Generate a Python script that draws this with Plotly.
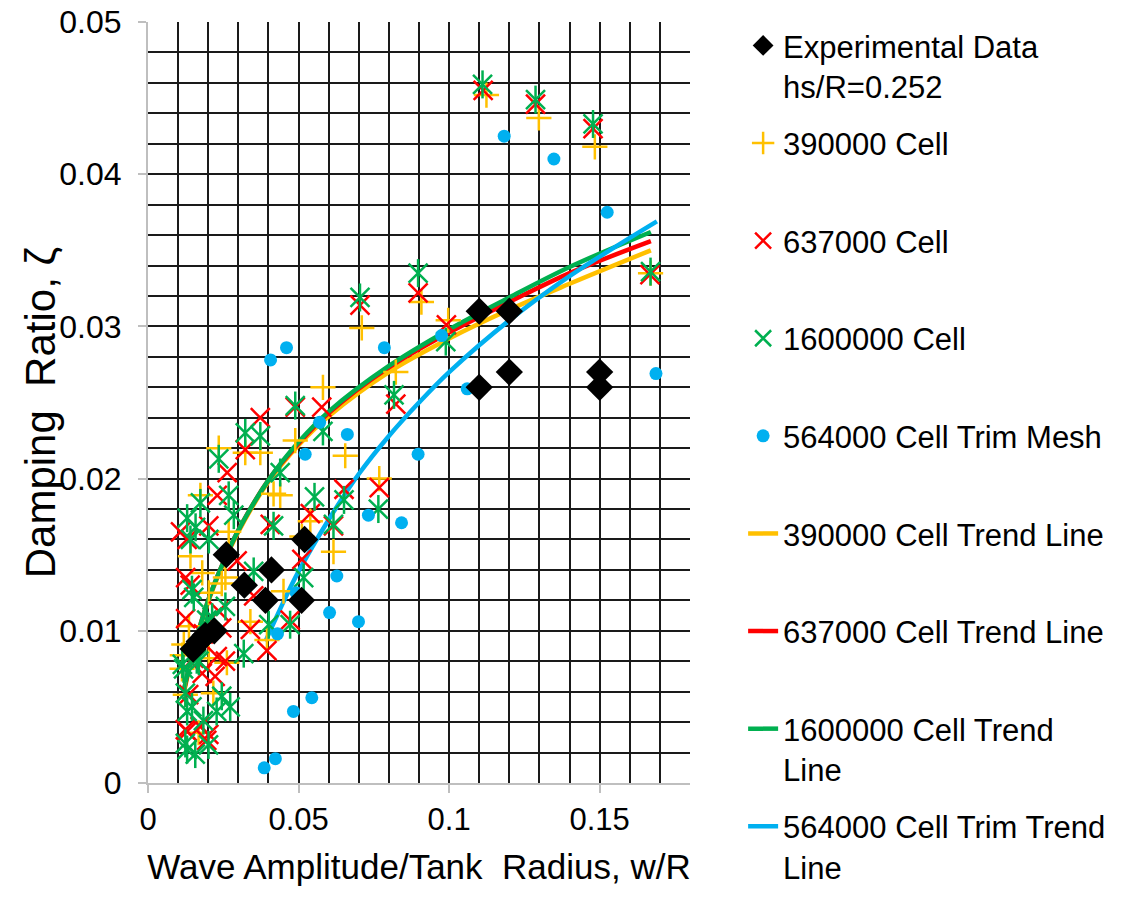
import plotly.graph_objects as go

# ---------------- data ----------------
exp_x = [0.015, 0.017, 0.019, 0.022, 0.026, 0.032, 0.039, 0.041, 0.051, 0.052,
         0.110, 0.110, 0.120, 0.120, 0.150, 0.150]
exp_y = [0.0088, 0.0093, 0.0097, 0.0100, 0.0150, 0.0130, 0.0120, 0.0140, 0.0120, 0.0160,
         0.0310, 0.0260, 0.0310, 0.0270, 0.0270, 0.0260]

c390_x = [0.1124, 0.1298, 0.1484, 0.1669, 0.0997, 0.0908, 0.0710, 0.0823, 0.0581, 0.0489,
          0.0655, 0.0768, 0.0539, 0.0511, 0.0616, 0.0235, 0.0323, 0.0373, 0.0174, 0.0417,
          0.0439, 0.0268, 0.0141, 0.0180, 0.0257, 0.0202, 0.0136, 0.0340, 0.0450, 0.0395,
          0.0119, 0.0114, 0.0202, 0.0113, 0.0245, 0.0262, 0.0217, 0.0124, 0.0168]
c390_y = [0.0452, 0.0437, 0.0418, 0.0335, 0.0304, 0.0316, 0.0299, 0.0270, 0.0260, 0.0225,
          0.0215, 0.0200, 0.0172, 0.0162, 0.0152, 0.0220, 0.0217, 0.0217, 0.0189, 0.0190,
          0.0189, 0.0165, 0.0149, 0.0138, 0.0135, 0.0125, 0.0103, 0.0106, 0.0126, 0.0094,
          0.0091, 0.0084, 0.0082, 0.0075, 0.0131, 0.0079, 0.0059, 0.0058, 0.0033]

c637_x = [0.1113, 0.1287, 0.1478, 0.1667, 0.0991, 0.0897, 0.0704, 0.0823, 0.0577, 0.0489,
          0.0768, 0.0651, 0.0539, 0.0616, 0.0511, 0.0472, 0.0373, 0.0323, 0.0263, 0.0230,
          0.0202, 0.0108, 0.0406, 0.0130, 0.0296, 0.0125, 0.0351, 0.0235, 0.0125, 0.0245,
          0.0340, 0.0395, 0.0230, 0.0152, 0.0180, 0.0257, 0.0140, 0.0184, 0.0223, 0.0135,
          0.0124, 0.0195, 0.0173, 0.0130, 0.0202]
c637_y = [0.0455, 0.0446, 0.0430, 0.0334, 0.0301, 0.0322, 0.0314, 0.0249, 0.0247, 0.0247,
          0.0194, 0.0193, 0.0177, 0.0169, 0.0147, 0.0107, 0.0240, 0.0219, 0.0204, 0.0189,
          0.0169, 0.0165, 0.0170, 0.0160, 0.0146, 0.0135, 0.0123, 0.0113, 0.0108, 0.0102,
          0.0101, 0.0087, 0.0083, 0.0082, 0.0072, 0.0080, 0.0130, 0.0098, 0.0070, 0.0058,
          0.0035, 0.0028, 0.0037, 0.0034, 0.0032]

c1600_x = [0.1111, 0.1287, 0.1478, 0.1669, 0.0989, 0.0897, 0.0704, 0.0817, 0.0489, 0.0581,
           0.0553, 0.0651, 0.0765, 0.0616, 0.0517, 0.0472, 0.0323, 0.0373, 0.0235, 0.0268,
           0.0174, 0.0439, 0.0285, 0.0130, 0.0158, 0.0417, 0.0141, 0.0202, 0.0351, 0.0152,
           0.0213, 0.0257, 0.0401, 0.0318, 0.0169, 0.0114, 0.0146, 0.0195, 0.0162, 0.0118,
           0.0124, 0.0146, 0.0184, 0.0228, 0.0273, 0.0245, 0.0124, 0.0157, 0.0201, 0.0130,
           0.0130]
c1600_y = [0.0459, 0.0449, 0.0433, 0.0336, 0.0290, 0.0335, 0.0319, 0.0255, 0.0248, 0.0231,
           0.0188, 0.0186, 0.0180, 0.0170, 0.0135, 0.0104, 0.0230, 0.0228, 0.0213, 0.0189,
           0.0184, 0.0204, 0.0176, 0.0174, 0.0168, 0.0169, 0.0160, 0.0160, 0.0139, 0.0122,
           0.0109, 0.0116, 0.0104, 0.0085, 0.0080, 0.0078, 0.0127, 0.0107, 0.0081, 0.0075,
           0.0059, 0.0050, 0.0041, 0.0047, 0.0050, 0.0057, 0.0026, 0.0019, 0.0025, 0.0022,
           0.0047]

trim_x = [0.1183, 0.1348, 0.1525, 0.1687, 0.1060, 0.0975, 0.0785, 0.0570, 0.0662, 0.0522,
          0.0897, 0.0732, 0.0842, 0.0627, 0.0492, 0.0603, 0.0699, 0.0544, 0.0483, 0.0423,
          0.0386, 0.0407, 0.0460, 0.0430]
trim_y = [0.0425, 0.0410, 0.0375, 0.0269, 0.0259, 0.0294, 0.0286, 0.0237, 0.0229, 0.0216,
          0.0216, 0.0176, 0.0171, 0.0136, 0.0125, 0.0112, 0.0106, 0.0056, 0.0047, 0.0016,
          0.0010, 0.0278, 0.0286, 0.0098]

# trend lines
tr_x = [0.012, 0.015, 0.020, 0.025, 0.030, 0.040, 0.050, 0.060, 0.080, 0.100, 0.120, 0.140, 0.167]
tr390_y = [0.0060, 0.0086, 0.0119, 0.0144, 0.0165, 0.0198, 0.0222, 0.0241, 0.0270, 0.0292, 0.0311, 0.0328, 0.0350]
tr637_y = [0.0061, 0.0087, 0.0120, 0.0145, 0.0166, 0.0199, 0.0223, 0.0243, 0.0273, 0.0296, 0.0316, 0.0335, 0.0356]
tr1600_y = [0.0062, 0.0087, 0.0120, 0.0145, 0.0166, 0.0199, 0.0224, 0.0244, 0.0274, 0.0298, 0.0319, 0.0339, 0.0362]
trtrim_x = [0.039, 0.045, 0.050, 0.060, 0.070, 0.080, 0.090, 0.100, 0.120, 0.140, 0.169]
trtrim_y = [0.0093, 0.0119, 0.0139, 0.0173, 0.0203, 0.0228, 0.0250, 0.0270, 0.0304, 0.0333, 0.0369]

x_ticks = [0, 0.05, 0.1, 0.15]
x_labels = ["0", "0.05", "0.1", "0.15"]
y_ticks = [0, 0.01, 0.02, 0.03, 0.04, 0.05]
y_labels = ["0", "0.01", "0.02", "0.03", "0.04", "0.05"]

ORANGE = "#FFC000"
RED = "#FF0000"
GREEN = "#00B050"
BLUE = "#00B0F0"
BLANK = "<br>\u00a0"

fig = go.Figure()

# trend lines
for name, xs, ys, col, rank in [
    ("390000 Cell Trend Line" + BLANK, tr_x, tr390_y, ORANGE, 6),
    ("637000 Cell Trend Line" + BLANK, tr_x, tr637_y, RED, 7),
    ("1600000 Cell Trend<br>Line", tr_x, tr1600_y, GREEN, 8),
    ("564000 Cell Trim Trend<br>Line", trtrim_x, trtrim_y, BLUE, 9),
]:
    fig.add_trace(go.Scatter(x=xs, y=ys, mode="lines", name=name, legendrank=rank,
                             legendgroup="g%d" % rank,
                             line=dict(color=col, width=4.5, shape="spline", smoothing=1.0)))

fig.add_trace(go.Scatter(x=c390_x, y=c390_y, mode="markers", name="390000 Cell" + BLANK,
                         legendrank=2, legendgroup="g2",
                         marker=dict(symbol="cross-thin", size=18, line=dict(color=ORANGE, width=2.5), color=ORANGE)))
fig.add_trace(go.Scatter(x=c637_x, y=c637_y, mode="markers", name="637000 Cell" + BLANK,
                         legendrank=3, legendgroup="g3",
                         marker=dict(symbol="x-thin", size=19, line=dict(color=RED, width=2.5), color=RED)))
fig.add_trace(go.Scatter(x=c1600_x, y=c1600_y, mode="markers", name="1600000 Cell" + BLANK,
                         legendrank=4, legendgroup="g4",
                         marker=dict(symbol="x-thin", size=19, line=dict(color=GREEN, width=2.5), color=GREEN)))
fig.add_trace(go.Scatter(x=c1600_x, y=c1600_y, mode="markers", showlegend=False,
                         legendgroup="g4",
                         marker=dict(symbol="line-ns", size=20, line=dict(color=GREEN, width=2.5), color=GREEN)))
fig.add_trace(go.Scatter(x=trim_x, y=trim_y, mode="markers", name="564000 Cell Trim Mesh" + BLANK,
                         legendrank=5, legendgroup="g5",
                         marker=dict(symbol="circle", size=13, color=BLUE)))
fig.add_trace(go.Scatter(x=exp_x, y=exp_y, mode="markers", name="Experimental Data<br>hs/R=0.252",
                         legendrank=1, legendgroup="g1",
                         marker=dict(symbol="diamond", size=21, color="black")))

FONT = "Liberation Sans, Arial, sans-serif"
grid_col = "#1a1a1a"

fig.update_layout(
    width=1127, height=901,
    margin=dict(l=148, r=437, t=22, b=118, autoexpand=False),
    paper_bgcolor="white", plot_bgcolor="white",
    font=dict(family=FONT, size=31, color="black"),
    legend=dict(x=1.098, y=1.0042, xanchor="left", yanchor="top",
                valign="top", maxheight=900,
                tracegroupgap=14, font=dict(size=31, color="black"),
                bgcolor="rgba(0,0,0,0)"),
    xaxis=dict(range=[0, 0.18], tickvals=x_ticks, ticktext=x_labels,
               showgrid=True, gridcolor=grid_col, gridwidth=1.5,
               minor=dict(dtick=0.01, tick0=0, showgrid=True, gridcolor=grid_col, gridwidth=1.5),
               zeroline=False, showline=True, linecolor="#bfbfbf", linewidth=2,
               ticks="outside", ticklen=8, tickcolor="#bfbfbf", tickwidth=2,
               tickfont=dict(size=31),
               title=dict(text="Wave Amplitude/Tank\u00a0 Radius, w/R", font=dict(size=35), standoff=18)),
    yaxis=dict(range=[0, 0.05], tickvals=y_ticks, ticktext=y_labels,
               showgrid=True, gridcolor=grid_col, gridwidth=1.5,
               minor=dict(dtick=0.002, tick0=0, showgrid=True, gridcolor=grid_col, gridwidth=1.5),
               zeroline=False, showline=True, linecolor="#bfbfbf", linewidth=2,
               ticks="outside", ticklen=8, tickcolor="#bfbfbf", tickwidth=2,
               ticklabelstandoff=10,
               tickfont=dict(size=32)),
    annotations=[dict(text="Damping\u00a0 Ratio, \u03b6", xref="paper", yref="paper",
                      x=-0.199, y=0.486, xanchor="center", yanchor="middle",
                      textangle=-90, showarrow=False, font=dict(size=42, color="black"))],
)

fig.write_html("out.html")
